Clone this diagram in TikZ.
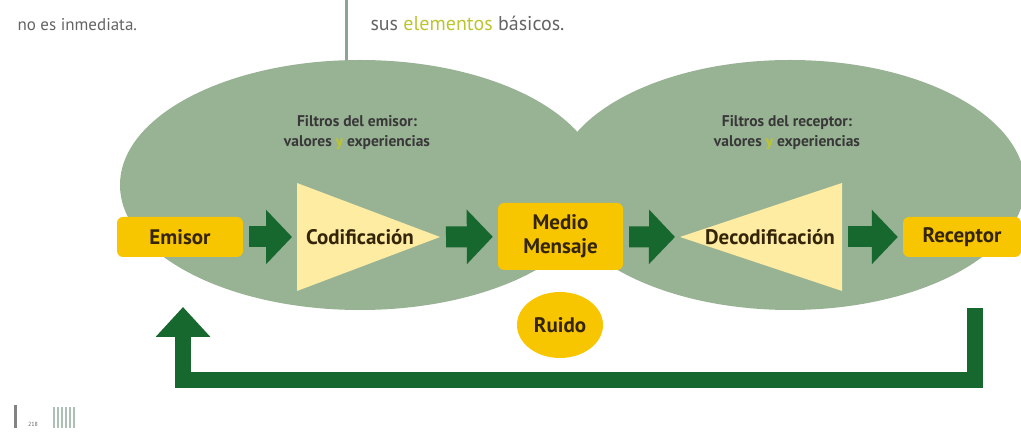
\documentclass[tikz,border=0pt]{standalone}
\usepackage{fontspec}
\setmainfont{PT Sans}
\usetikzlibrary{shapes.geometric, arrows.meta, positioning, calc}

\definecolor{colfiltro}{RGB}{152,178,148}
\definecolor{colverde}{RGB}{22,104,46}
\definecolor{colamarillo}{RGB}{247,198,0}
\definecolor{colcrema}{RGB}{253,236,162}
\definecolor{coltexto}{RGB}{52,36,8}
\definecolor{cololiva}{RGB}{188,196,48}
\definecolor{colgris}{RGB}{100,100,100}
\definecolor{collinea}{RGB}{138,165,147}

\begin{document}
\begin{tikzpicture}[x=1pt, y=-1pt,
    caja/.style={fill=colamarillo, rounded corners=6pt, inner sep=0pt, align=center,
      text=coltexto, font=\fontsize{21}{24}\selectfont\bfseries},
    etiqueta/.style={text=coltexto, font=\fontsize{21}{24}\selectfont\bfseries},
    filtrotxt/.style={text=black!78, align=center, font=\fontsize{15.5}{20}\selectfont\bfseries},
    flecha/.style={draw=colverde, line width=21pt, -{Triangle[length=26pt,width=53pt]},
      shorten <=6pt, shorten >=5pt},
    retorno/.style={draw=colverde, line width=16pt, line join=miter,
      -{Triangle[length=30pt,width=53pt]}},
    pagina/.style={text=colgris, font=\fontsize{18}{20}\selectfont}]

\useasboundingbox (0,0) rectangle (1021,435);

% page text above
\draw[collinea, line width=3pt] (346,0) -- (346,64);
\node[pagina, anchor=base west, font=\fontsize{17}{20}\selectfont] (txtizq) at (14,31) {no es inmediata.};
\node[pagina, anchor=base west, font=\fontsize{20}{22}\selectfont] (txtder) at (367,31) {sus {\color{cololiva}elementos} básicos.};

% filtros
\fill[colfiltro] (360,185) ellipse [x radius=240pt, y radius=125pt];
\fill[colfiltro] (790,185) ellipse [x radius=235pt, y radius=125pt];

\node[filtrotxt] (filtroemi) at (357,133) {Filtros del emisor:\\valores {\color{cololiva}y} experiencias};
\node[filtrotxt] (filtrorec) at (787,133) {Filtros del receptor:\\valores {\color{cololiva}y} experiencias};

% triangles
\coordinate (codbase) at (297,237);
\coordinate (codtip) at (440,237);
\coordinate (dectip) at (680,237);
\coordinate (decbase) at (842,237);
\fill[colcrema] ($(codbase)+(0,-54)$) -- (codtip) -- ($(codbase)+(0,54)$) -- cycle;
\fill[colcrema] ($(decbase)+(0,-54)$) -- (dectip) -- ($(decbase)+(0,54)$) -- cycle;
\node[etiqueta] (codif) at (360,237) {Codificación};
\node[etiqueta] (decodif) at (770,237) {Decodificación};

% boxes
\node[caja, minimum width=126pt, minimum height=40pt] (emisor) at (180,237) {Emisor};
\node[caja, minimum width=125pt, minimum height=67pt] (medio) at (560.5,236.5) {Medio\\Mensaje};
\node[caja, minimum width=118pt, minimum height=40pt] (receptor) at (962,237) {Receptor};
\node[caja, ellipse, minimum width=86pt, minimum height=66pt] (ruido) at (560,325) {Ruido};

% arrows
\draw[flecha] (emisor) -- (codbase);
\draw[flecha] (codtip) -- (medio);
\draw[flecha] (medio) -- (dectip);
\draw[flecha] (decbase) -- (receptor);

% feedback
\coordinate (retini) at (975,308);
\coordinate (retfin) at (183,307);
\draw[retorno] (retini) -- ++(0,72) -| (retfin);

% page number
\draw[colgris!80, line width=3pt] (15,405) -- (15,428);
\node[text=colgris, font=\fontsize{6}{7}\selectfont] (pagnum) at (33,424) {218};
\foreach \x in {54,58,...,74} \draw[collinea!70, line width=1.5pt] (\x,407) -- (\x,428);

\end{tikzpicture}
\end{document}
